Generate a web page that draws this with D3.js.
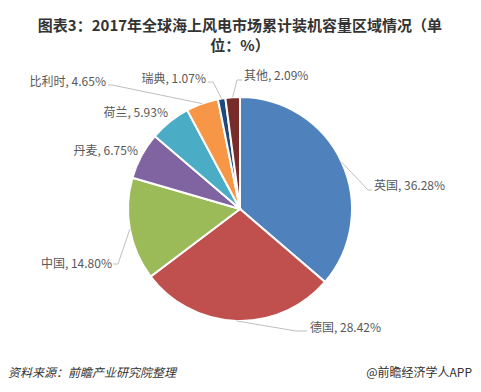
<!DOCTYPE html>
<html><head><meta charset="utf-8">
<script src="https://cdn.jsdelivr.net/npm/d3@7"></script>
<style>body{margin:0;background:#fff}svg{display:block}</style>
</head><body>
<svg id="c" width="481" height="392"></svg>
<script>
const categories = ["英国","德国","中国","丹麦","荷兰","比利时","瑞典","其他"];
const values = [36.28, 28.42, 14.80, 6.75, 5.93, 4.65, 1.07, 2.09];
const colors = ["#4F81BD","#C0504D","#9BBB59","#8064A2","#4BACC6","#F79646","#1F497D","#772C2A"];
const titleLines = ["图表3：2017年全球海上风电市场累计装机容量区域情况（单","位：%）"];

// label layout: text position and leader elbow/end points (null = no leader)
const labelLayout = [
  {x:374, y:190, anchor:"start", leader:[[368,190],[372,190]]},
  {x:310, y:332, anchor:"start", leader:[[296,331],[307,331]]},
  {x:112, y:268, anchor:"end", leader:[[118,264],[113,264]]},
  {x:138, y:155, anchor:"end", leader:null},
  {x:168, y:117, anchor:"end", leader:null},
  {x:106, y:86, anchor:"end", leader:[[112,85],[108,85]]},
  {x:206, y:83, anchor:"end", leader:[[213,82],[208,82]]},
  {x:244, y:80, anchor:"start", leader:[[237,80],[242,80]]}
];

const svg = d3.select("#c");
const cx = 240, cy = 209, R = 112;
const font = "'Noto Sans CJK SC','Noto Sans',sans-serif";

svg.selectAll("text.title").data(titleLines).join("text")
  .attr("x", 240).attr("y", (d,i)=>31+i*20)
  .attr("text-anchor","middle").attr("font-family",font)
  .attr("font-size",15).attr("font-weight","bold").attr("fill","#333")
  .text(d=>d);

const pie = d3.pie().sort(null).value(d=>d)(values);
const arc = d3.arc().innerRadius(0).outerRadius(R);
const g = svg.append("g").attr("transform",`translate(${cx},${cy})`);
g.selectAll("path").data(pie).join("path")
  .attr("d",arc).attr("fill",(d,i)=>colors[i])
  .attr("stroke","#fff").attr("stroke-width",2);

const edge = d => { const a=(d.startAngle+d.endAngle)/2; return [cx+R*Math.sin(a), cy-R*Math.cos(a)]; };
const line = d3.line();
svg.selectAll("path.leader").data(pie).join("path")
  .filter((d,i)=>labelLayout[i].leader)
  .attr("class","leader")
  .attr("d",(d,i)=>line([edge(d)].concat(labelLayout[d.index].leader)))
  .attr("fill","none").attr("stroke","#BFBFBF").attr("stroke-width",1);

svg.selectAll("text.lbl").data(pie).join("text")
  .attr("class","lbl")
  .attr("x",(d,i)=>labelLayout[i].x).attr("y",(d,i)=>labelLayout[i].y)
  .attr("text-anchor",(d,i)=>labelLayout[i].anchor)
  .attr("font-family",font).attr("font-size",12).attr("fill","#595959")
  .text((d,i)=>`${categories[i]}, ${values[i].toFixed(2)}%`);

svg.append("text").attr("x",8).attr("y",377).attr("font-family",font)
  .attr("font-size",12).attr("font-style","italic").attr("fill","#333")
  .attr("transform","skewX(0)")
  .text("资料来源：前瞻产业研究院整理");
svg.append("text").attr("x",472).attr("y",377).attr("text-anchor","end")
  .attr("font-family",font).attr("font-size",12).attr("fill","#333")
  .text("@前瞻经济学人APP");
</script>
</body></html>
